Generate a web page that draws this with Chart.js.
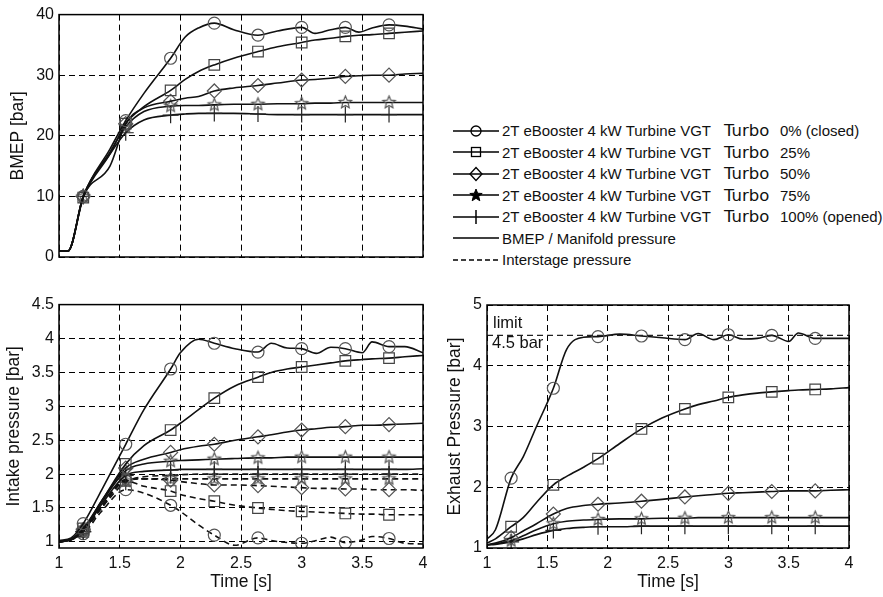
<!DOCTYPE html>
<html>
<head>
<meta charset="utf-8">
<script src="https://cdn.jsdelivr.net/npm/chart.js@4.4.1/dist/chart.umd.min.js"></script>
<style>
  html, body { margin: 0; padding: 0; background: #fff; }
  body { width: 883px; height: 597px; position: relative; overflow: hidden; font-family: 'Liberation Sans', Arial, sans-serif; color: #111; }
  .box { position: absolute; }
  #leg { position: absolute; left: 453px; top: 120px; }
  #leg .row { height: 21.5px; display: flex; align-items: center; white-space: nowrap; }
  #leg svg { width: 46px; height: 20px; margin-right: 3px; flex: none; }
  #leg .a { font-size: 15px; width: 222px; display: inline-block; }
  #leg .t { font-family: 'DejaVu Sans', sans-serif; font-size: 16.5px; width: 56px; display: inline-block; }
  #leg .p { font-size: 15px; }
</style>
</head>
<body>
<div class="box" style="left:0;top:0;width:440px;height:280px"><canvas id="c1"></canvas></div>
<div class="box" style="left:0;top:290px;width:440px;height:307px"><canvas id="c2"></canvas></div>
<div class="box" style="left:440px;top:290px;width:443px;height:307px"><canvas id="c3"></canvas></div>
<div id="leg"></div>
<script>
// ── Data ──
const xTicks = [1, 1.5, 2, 2.5, 3, 3.5, 4];
const markT = [1.2, 1.55, 1.92, 2.28, 2.64, 3.0, 3.36, 3.72];
const seriesName = '2T eBooster 4 kW Turbine VGT';
const turboWord = 'Turbo';
const turboPos = ['0% (closed)', '25%', '50%', '75%', '100% (opened)'];
const lineKinds = ['BMEP / Manifold pressure', 'Interstage pressure'];

// BMEP
const tB = [1, 1.075, 1.2, 1.42, 1.55, 1.7, 1.92, 2.04, 2.15, 2.28, 2.44, 2.64, 2.8, 3.0, 3.11, 3.24, 3.36, 3.47, 3.58, 3.72, 3.85, 4.0];
const bmep0   = [1, 1, 10, 17.8, 22.5, 27, 32.8, 36.3, 37.8, 38.6, 37.5, 36.6, 37.3, 37.9, 36.9, 37.5, 37.9, 37.1, 37.8, 38.3, 38.1, 37.6];
const bmep25  = [1, 1, 9.8, 17, 22, 24.8, 27.5, 29.3, 30.6, 31.7, 32.8, 33.9, 34.7, 35.4, 35.8, 36.1, 36.4, 36.6, 36.7, 36.9, 37.1, 37.3];
const bmep50  = [1, 1, 10, 15, 22, 24.6, 25.7, 26.2, 26.5, 27.4, 27.9, 28.3, 28.7, 29.2, 29.3, 29.5, 29.8, 29.9, 30.0, 30.0, 30.2, 30.3];
const bmep75  = [1, 1, 10, 17.3, 21.5, 24, 24.9, 25.0, 25.0, 25.1, 25.2, 25.2, 25.3, 25.3, 25.4, 25.4, 25.5, 25.5, 25.5, 25.5, 25.5, 25.5];
const bmep100 = [1, 1, 10, 17, 20.5, 22.6, 23.4, 23.6, 23.7, 23.7, 23.7, 23.6, 23.5, 23.5, 23.5, 23.5, 23.5, 23.5, 23.5, 23.5, 23.5, 23.5];
const bmepTicks = [0, 10, 20, 30, 40];

// Intake / interstage pressure
const tI = [1, 1.1, 1.2, 1.35, 1.55, 1.7, 1.92, 2.0, 2.15, 2.28, 2.45, 2.64, 2.75, 2.88, 3.0, 3.12, 3.24, 3.36, 3.5, 3.58, 3.72, 3.85, 4.0];
const in0   = [1.02, 1.06, 1.27, 1.76, 2.44, 2.95, 3.55, 3.79, 3.99, 3.93, 3.85, 3.8, 3.93, 3.86, 3.85, 3.78, 3.87, 3.85, 3.79, 3.95, 3.88, 3.88, 3.79];
const in25  = [1.0, 1.04, 1.2, 1.6, 2.15, 2.42, 2.65, 2.75, 2.95, 3.12, 3.3, 3.43, 3.5, 3.55, 3.58, 3.61, 3.64, 3.67, 3.69, 3.7, 3.71, 3.73, 3.75];
const in50  = [1.0, 1.04, 1.18, 1.6, 2.09, 2.22, 2.32, 2.36, 2.41, 2.44, 2.5, 2.55, 2.58, 2.62, 2.65, 2.67, 2.69, 2.7, 2.72, 2.72, 2.73, 2.74, 2.75];
const in75  = [1.0, 1.03, 1.17, 1.58, 2.05, 2.15, 2.19, 2.2, 2.21, 2.22, 2.23, 2.24, 2.24, 2.25, 2.25, 2.25, 2.25, 2.25, 2.25, 2.25, 2.25, 2.25, 2.25];
const in100 = [1.0, 1.03, 1.15, 1.55, 1.98, 2.04, 2.06, 2.07, 2.07, 2.07, 2.07, 2.07, 2.07, 2.07, 2.07, 2.07, 2.07, 2.07, 2.07, 2.07, 2.07, 2.07, 2.08];
const is0   = [1.0, 1.04, 1.12, 1.45, 1.77, 1.72, 1.54, 1.45, 1.25, 1.1, 0.95, 1.06, 1.02, 0.99, 0.98, 1.02, 1.07, 0.99, 1.03, 1.08, 1.05, 0.98, 0.97];
const is25  = [1.0, 1.04, 1.15, 1.5, 1.9, 1.82, 1.75, 1.7, 1.64, 1.6, 1.54, 1.5, 1.48, 1.46, 1.45, 1.44, 1.43, 1.42, 1.41, 1.41, 1.4, 1.4, 1.4];
const is50  = [1.0, 1.04, 1.16, 1.52, 1.92, 1.93, 1.91, 1.89, 1.86, 1.84, 1.84, 1.83, 1.82, 1.81, 1.8, 1.79, 1.79, 1.78, 1.78, 1.77, 1.77, 1.77, 1.76];
const is75  = [1.0, 1.04, 1.16, 1.52, 1.9, 1.93, 1.93, 1.93, 1.93, 1.93, 1.93, 1.93, 1.93, 1.93, 1.93, 1.93, 1.93, 1.93, 1.93, 1.93, 1.93, 1.93, 1.93];
const is100 = [1.0, 1.03, 1.15, 1.5, 1.88, 1.96, 1.98, 1.99, 2.0, 2.0, 2.0, 2.0, 2.0, 2.0, 2.0, 2.0, 2.0, 2.0, 2.0, 2.0, 2.0, 2.0, 2.0];
const intakeTicks = [1, 1.5, 2, 2.5, 3, 3.5, 4, 4.5];

// Exhaust pressure
const tE = [1, 1.07, 1.2, 1.3, 1.41, 1.55, 1.66, 1.8, 1.92, 2.1, 2.28, 2.45, 2.64, 2.75, 2.88, 3.0, 3.12, 3.24, 3.36, 3.5, 3.58, 3.72, 3.85, 4.0];
const ex0   = [1.15, 1.3, 2.15, 2.5, 3.0, 3.63, 4.27, 4.47, 4.48, 4.52, 4.49, 4.46, 4.43, 4.53, 4.43, 4.51, 4.44, 4.45, 4.5, 4.4, 4.54, 4.45, 4.45, 4.45];
const ex25  = [1.08, 1.15, 1.35, 1.5, 1.75, 2.04, 2.18, 2.33, 2.47, 2.72, 2.96, 3.14, 3.29, 3.36, 3.42, 3.48, 3.52, 3.55, 3.57, 3.59, 3.6, 3.61, 3.62, 3.64];
const ex50  = [1.05, 1.08, 1.17, 1.28, 1.4, 1.56, 1.65, 1.7, 1.72, 1.74, 1.77, 1.8, 1.84, 1.86, 1.88, 1.9, 1.91, 1.92, 1.93, 1.94, 1.94, 1.94, 1.95, 1.96];
const ex75  = [1.05, 1.07, 1.12, 1.2, 1.3, 1.4, 1.44, 1.46, 1.47, 1.48, 1.48, 1.49, 1.49, 1.5, 1.5, 1.5, 1.5, 1.5, 1.5, 1.5, 1.5, 1.5, 1.5, 1.5];
const ex100 = [1.05, 1.06, 1.1, 1.15, 1.22, 1.29, 1.32, 1.34, 1.35, 1.35, 1.36, 1.36, 1.36, 1.36, 1.36, 1.36, 1.36, 1.36, 1.36, 1.36, 1.36, 1.36, 1.36, 1.36];
const exhaustTicks = [1, 2, 3, 4, 5];
const limitValue = 4.5;
const limitLabel = ['limit', '4.5 bar'];

// ── Markers ──
function starImg(r, col, fill) {
  const c = document.createElement('canvas');
  const s = Math.ceil(r * 2 + 4);
  c.width = s; c.height = s;
  const g = c.getContext('2d');
  g.strokeStyle = col; g.lineWidth = 1.2;
  g.beginPath();
  for (let i = 0; i < 10; i++) {
    const a = -Math.PI / 2 + i * Math.PI / 5;
    const rr = i % 2 ? r * 0.45 : r;
    g.lineTo(s / 2 + rr * Math.cos(a), s / 2 + rr * Math.sin(a));
  }
  g.closePath();
  if (fill) { g.fillStyle = fill; g.fill(); }
  g.stroke();
  return c;
}

const mk = [
  { style: 'circle',  r: 6,   col: '#555' },
  { style: 'rect',    r: 7.5, col: '#444' },
  { style: 'rectRot', r: 7,   col: '#555' },
  { style: starImg(6.5, '#555'), r: 6, col: '#555' },
  { style: 'cross',   r: 8,   col: '#222' }
];

function ds(t, vals, m, dashed) {
  return {
    data: t.map((x, i) => ({ x, y: vals[i] })),
    borderColor: '#111', borderWidth: 1.6, borderDash: dashed ? [6, 4] : [],
    cubicInterpolationMode: 'monotone', fill: false,
    pointStyle: m.style,
    pointRadius: c => markT.includes(t[c.dataIndex]) ? m.r : 0,
    pointBorderColor: m.col, pointBackgroundColor: 'rgba(0,0,0,0)', pointBorderWidth: 1.2
  };
}

// ── Frame + annotation plugins ──
const frame = {
  id: 'frame',
  afterDraw(ch) {
    const { ctx, chartArea: a } = ch;
    ctx.save();
    ctx.strokeStyle = '#000'; ctx.lineWidth = 1.5; ctx.setLineDash([]);
    ctx.strokeRect(a.left, a.top, a.right - a.left, a.bottom - a.top);
    ctx.restore();
  }
};

const limitText = {
  id: 'limitText',
  afterDatasetsDraw(ch) {
    const { ctx, chartArea: a } = ch;
    const y = ch.scales.y.getPixelForValue(limitValue);
    ctx.save();
    ctx.font = '16.5px "Liberation Sans", Arial, sans-serif';
    ctx.fillStyle = '#111';
    ctx.textBaseline = 'alphabetic';
    ctx.fillText(limitLabel[0], a.left + 6, y - 7);
    ctx.fillText(limitLabel[1], a.left + 5, y + 13);
    ctx.restore();
  }
};

// ── Options ──
function mkOpts(o) {
  const tickCb = v => String(v);
  return {
    responsive: true, maintainAspectRatio: false, animation: false,
    layout: { padding: o.pad },
    plugins: { legend: { display: false }, tooltip: { enabled: false } },
    scales: {
      x: {
        type: 'linear', min: 1, max: 4,
        afterBuildTicks: s => { s.ticks = xTicks.map(v => ({ value: v })); },
        afterFit: s => { s.height = o.xh; },
        ticks: { display: o.xLabels, padding: 6, font: { size: 16 }, color: '#111', callback: tickCb, maxRotation: 0 },
        grid: { color: '#000', lineWidth: 1, drawTicks: false },
        border: { display: false, dash: [6, 4] },
        title: { display: o.xLabels, text: 'Time [s]', color: '#111', font: { size: 17.5 }, padding: { top: 0, bottom: 4 } }
      },
      y: {
        type: 'linear', min: o.ymin, max: o.ymax,
        afterBuildTicks: s => { s.ticks = o.yTicks.map(v => ({ value: v })); },
        afterFit: s => { s.width = o.yw; },
        ticks: { padding: 5, font: { size: 16 }, color: '#111', callback: tickCb },
        grid: { color: '#000', lineWidth: 1, drawTicks: false },
        border: { display: false, dash: [6, 4] },
        title: { display: true, text: o.yTitle, color: '#111', font: { size: 17.5 }, padding: { top: o.yTitlePad, bottom: 0 } }
      }
    }
  };
}

Chart.defaults.font.family = '"Liberation Sans", Arial, sans-serif';

// ── BMEP chart ──
new Chart(document.getElementById('c1'), {
  type: 'line',
  data: { datasets: [
    ds(tB, bmep0, mk[0]), ds(tB, bmep25, mk[1]), ds(tB, bmep50, mk[2]), ds(tB, bmep75, mk[3]), ds(tB, bmep100, mk[4])
  ]},
  options: mkOpts({ pad: { left: 0, top: 14, right: 17, bottom: 0 }, xh: 23, yw: 59, xLabels: false,
    ymin: 0, ymax: 40, yTicks: bmepTicks, yTitle: 'BMEP [bar]', yTitlePad: 7.5 }),
  plugins: [frame]
});

// ── Intake chart ──
new Chart(document.getElementById('c2'), {
  type: 'line',
  data: { datasets: [
    ds(tI, in0, mk[0]), ds(tI, in25, mk[1]), ds(tI, in50, mk[2]), ds(tI, in75, mk[3]), ds(tI, in100, mk[4]),
    ds(tI, is0, mk[0], true), ds(tI, is25, mk[1], true), ds(tI, is50, mk[2], true), ds(tI, is75, mk[3], true), ds(tI, is100, mk[4], true)
  ]},
  options: mkOpts({ pad: { left: 0, top: 14, right: 17, bottom: 0 }, xh: 49, yw: 59, xLabels: true,
    ymin: 0.91, ymax: 4.5, yTicks: intakeTicks, yTitle: 'Intake pressure [bar]', yTitlePad: 4 }),
  plugins: [frame]
});

// ── Exhaust chart ──
new Chart(document.getElementById('c3'), {
  type: 'line',
  data: { datasets: [
    { data: [{ x: 1, y: limitValue }, { x: 4, y: limitValue }], borderColor: '#222', borderWidth: 1.2, borderDash: [6, 4], pointRadius: 0 },
    ds(tE, ex0, mk[0]), ds(tE, ex25, mk[1]), ds(tE, ex50, mk[2]), ds(tE, ex75, mk[3]), ds(tE, ex100, mk[4])
  ]},
  options: mkOpts({ pad: { left: 0, top: 15, right: 34, bottom: 0 }, xh: 49, yw: 47, xLabels: true,
    ymin: 1, ymax: 5, yTicks: exhaustTicks, yTitle: 'Exhaust Pressure [bar]', yTitlePad: 4.5 }),
  plugins: [frame, limitText]
});

// ── Legend ──
function legSym(i) {
  const c = 'stroke="#000" stroke-width="1.3" fill="none"';
  if (i === 0) return `<circle cx="23" cy="10" r="5" ${c}/>`;
  if (i === 1) return `<rect x="18.5" y="5.5" width="9" height="9" ${c}/>`;
  if (i === 2) return `<polygon points="23,3.5 29,10 23,16.5 17,10" ${c}/>`;
  if (i === 3) {
    const p = [];
    for (let k = 0; k < 10; k++) {
      const a = -Math.PI / 2 + k * Math.PI / 5, rr = k % 2 ? 2.8 : 6.5;
      p.push((23 + rr * Math.cos(a)).toFixed(2) + ',' + (10.5 + rr * Math.sin(a)).toFixed(2));
    }
    return `<polygon points="${p.join(' ')}" stroke="#000" stroke-width="1" fill="#000"/>`;
  }
  return `<line x1="23" y1="3" x2="23" y2="17" stroke="#000" stroke-width="1.5"/>`;
}

const legEl = document.getElementById('leg');
legEl.innerHTML =
  turboPos.map((p, i) => `<div class="row"><svg viewBox="0 0 46 20"><line x1="0" y1="10" x2="46" y2="10" stroke="#000" stroke-width="1.6"/>${legSym(i)}</svg>` +
    `<span class="a">${seriesName}</span><span class="t">${turboWord}</span><span class="p">${p}</span></div>`).join('') +
  `<div class="row"><svg viewBox="0 0 46 20"><line x1="0" y1="10" x2="46" y2="10" stroke="#000" stroke-width="1.3"/></svg><span class="p">${lineKinds[0]}</span></div>` +
  `<div class="row"><svg viewBox="0 0 46 20"><line x1="0" y1="10" x2="46" y2="10" stroke="#000" stroke-width="1.3" stroke-dasharray="5,3"/></svg><span class="p">${lineKinds[1]}</span></div>`;
</script>
</body>
</html>
